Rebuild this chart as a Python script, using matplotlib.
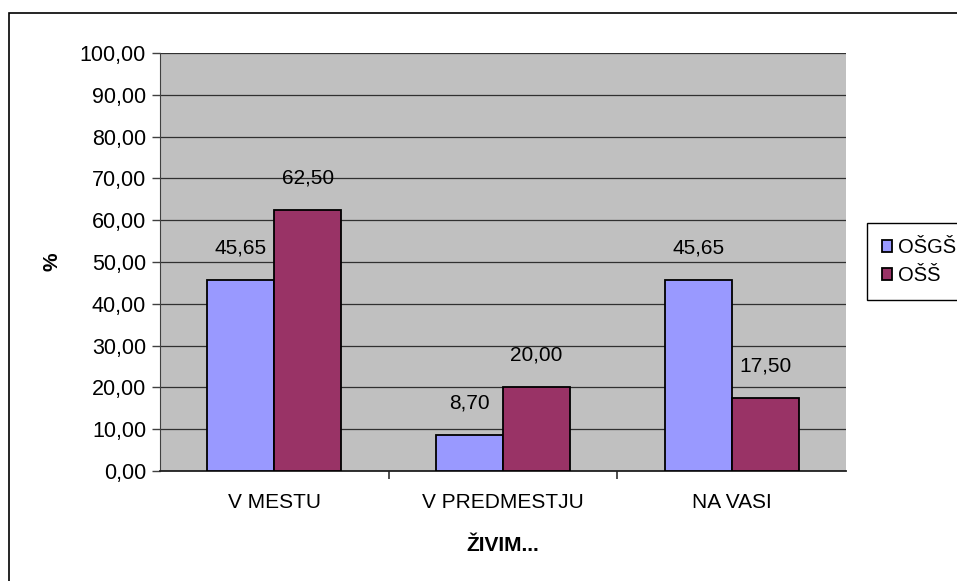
import numpy as np
import matplotlib.pyplot as plt
from matplotlib.patches import Rectangle

plt.rcParams['font.family'] = ['Liberation Sans', 'DejaVu Sans']

# data
categories = ['V MESTU', 'V PREDMESTJU', 'NA VASI']
series_names = ['OŠGŠ', 'OŠŠ']
osgs = [45.65, 8.70, 45.65]
oss = [62.50, 20.00, 17.50]
colors = ['#9999FF', '#993366']
fs = 15

fig = plt.figure(figsize=(9.57, 5.81), dpi=100)
ax = fig.add_axes([160/957, 1 - 471/581, 686/957, 418/581])
ax.set_facecolor('#C0C0C0')

x = np.arange(len(categories))
w = 0.293
b1 = ax.bar(x - w/2, osgs, w, color=colors[0], edgecolor='black', linewidth=1.3, zorder=3, label=series_names[0])
b2 = ax.bar(x + w/2, oss, w, color=colors[1], edgecolor='black', linewidth=1.3, zorder=3, label=series_names[1])

for bars, vals in ((b1, osgs), (b2, oss)):
    for r, v in zip(bars, vals):
        ax.text(r.get_x() + r.get_width()/2, v + 5.4, f'{v:.2f}'.replace('.', ','),
                ha='center', va='bottom', fontsize=fs)

ax.set_xlim(-0.5, 2.5)
ax.set_ylim(0, 100)
yt = np.arange(0, 101, 10)
ax.set_yticks(yt)
ax.set_yticklabels([f'{v:.2f}'.replace('.', ',') for v in yt], fontsize=15.5)
ax.yaxis.grid(True, color='#303030', linewidth=0.9, zorder=1)
ax.set_axisbelow(True)

ax.set_xticks(x)
ax.set_xticklabels(categories, fontsize=fs)
ax.tick_params(axis='x', length=0, pad=16)
ax.set_xticks([0.5, 1.5], minor=True)
ax.tick_params(axis='x', which='minor', length=6, width=1.3, color='#404040')
ax.tick_params(axis='y', length=6, width=1.0, color='#404040', pad=4)

for s in ['top', 'right']:
    ax.spines[s].set_visible(False)
ax.spines['left'].set_color('#404040')
ax.spines['bottom'].set_color('#202020')
ax.spines['bottom'].set_linewidth(1.3)

ax.set_xlabel('ŽIVIM...', fontsize=fs, fontweight='bold', labelpad=17)
ax.set_ylabel('%', fontsize=fs, fontweight='bold', labelpad=13)

fig.legend(handles=[b1, b2], labels=series_names, loc='upper left',
           bbox_to_anchor=(867/957, 1 - 223/581), fontsize=14.5,
           frameon=True, fancybox=False, edgecolor='black', framealpha=1,
           handlelength=0.5, handleheight=0.5, handletextpad=0.3,
           borderpad=0.75, labelspacing=0.45, borderaxespad=0)

fig.patches.append(Rectangle((9/957, -0.1), 1.2, 1.1 - 13/581, transform=fig.transFigure,
                             fill=False, edgecolor='black', linewidth=1.2))

fig.savefig('out.png', dpi=100)
